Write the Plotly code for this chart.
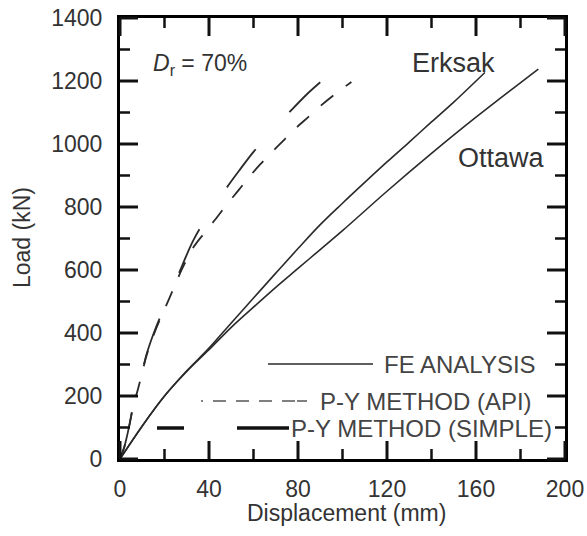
import plotly.graph_objects as go

# ---- data: pile head load vs. displacement, Dr = 70% ----
# FE analysis, Erksak sand
fe_erksak_disp = [0, 10, 20, 30, 40, 50, 60, 70, 80, 90, 100, 110, 120, 130, 140, 150, 164]
fe_erksak_load = [0, 105, 200, 280, 352, 432, 511, 590, 668, 744, 812, 878, 943, 1006, 1070, 1133, 1227]
# FE analysis, Ottawa sand
fe_ottawa_disp = [0, 10, 20, 30, 40, 50, 60, 70, 80, 90, 100, 120, 140, 160, 188]
fe_ottawa_load = [0, 105, 200, 278, 347, 418, 482, 545, 605, 665, 725, 850, 970, 1085, 1238]
# P-Y method (API)
api_disp = [0, 2, 4, 6, 8, 10, 12, 16, 20, 24, 28, 33, 38, 43, 48, 53.5, 58, 63, 68, 74, 79, 85, 90, 97, 104]
api_load = [0, 40, 100, 170, 220, 275, 330, 410, 475, 540, 605, 672, 718, 762, 808, 855, 895, 935, 972, 1015, 1050, 1088, 1120, 1160, 1197]
# P-Y method (simple)
simple_disp = [0, 2, 4, 6, 8, 10, 12, 16, 20, 24, 28, 33, 40, 47, 53.5, 60, 67.7, 76, 84, 90]
simple_load = [0, 40, 100, 170, 222, 278, 334, 415, 482, 548, 615, 695, 778, 852, 915, 975, 1037, 1100, 1158, 1196]

x_range = [0, 200]
y_range = [0, 1400]
x_major, x_minor = 40, 20
y_major, y_minor = 200, 100

FONT = "Liberation Sans, Arial, sans-serif"
INK = "#2a2a2a"
TXT = "#333"
KEY_TXT = "#444"

# plot-area geometry in pixels (used for the hand-drawn key and tick marks)
W, H = 587, 536
L, R, T, B = 120, 22, 18, 77
PW, PH = W - L - R, H - T - B


def px(x):
    return (x - L) / PW


def py(y):
    return (H - B - y) / PH


fig = go.Figure()

line_style = dict(color=INK, width=1.6)
fig.add_trace(go.Scatter(x=fe_erksak_disp, y=fe_erksak_load, mode="lines",
                         line=dict(**line_style, shape="spline"), name="FE Erksak"))
fig.add_trace(go.Scatter(x=fe_ottawa_disp, y=fe_ottawa_load, mode="lines",
                         line=dict(**line_style, shape="spline"), name="FE Ottawa"))
fig.add_trace(go.Scatter(x=api_disp, y=api_load, mode="lines",
                         line=dict(color=INK, width=1.8, dash="16px,16px", shape="spline"),
                         name="P-Y API"))
fig.add_trace(go.Scatter(x=simple_disp, y=simple_load, mode="lines",
                         line=dict(color=INK, width=1.8, dash="48px,50px", shape="spline"),
                         name="P-Y simple"))

shapes = []


# inward tick marks on all four sides of the frame (paper coordinates)
def add_ticks(axis, step, skip, length_px, width):
    rng = x_range if axis == "x" else y_range
    span = rng[1] - rng[0]
    for v in range(rng[0], rng[1] + 1, step):
        if skip and v % skip == 0:
            continue
        f = (v - rng[0]) / span
        style = dict(type="line", xref="paper", yref="paper",
                     line=dict(color="#111", width=width))
        if axis == "x":
            d = length_px / PH
            shapes.append(dict(style, x0=f, x1=f, y0=0, y1=d))
            shapes.append(dict(style, x0=f, x1=f, y0=1, y1=1 - d))
        else:
            d = length_px / PW
            shapes.append(dict(style, y0=f, y1=f, x0=0, x1=d))
            shapes.append(dict(style, y0=f, y1=f, x0=1, x1=1 - d))


add_ticks("x", x_major, None, 18, 3)
add_ticks("x", x_minor, x_major, 10, 2.5)
add_ticks("y", y_major, None, 18, 3)
add_ticks("y", y_minor, y_major, 10, 2.5)

# key: sample lines
shapes += [
    dict(type="line", xref="paper", yref="paper", x0=px(268), x1=px(373), y0=py(364), y1=py(364),
         line=dict(color=INK, width=1.5)),
    dict(type="line", xref="paper", yref="paper", x0=px(201), x1=px(308), y0=py(401), y1=py(401),
         line=dict(color="#555", width=1.3, dash="2px,10px,13px,10px,13px,10px,13px,10px,13px")),
    dict(type="line", xref="paper", yref="paper", x0=px(157), x1=px(184), y0=py(428), y1=py(428),
         line=dict(color="#111", width=3.5)),
    dict(type="line", xref="paper", yref="paper", x0=px(237), x1=px(289), y0=py(428), y1=py(428),
         line=dict(color="#111", width=3.5)),
]

annotations = [
    dict(text="FE ANALYSIS", x=px(538), y=py(364), xanchor="right", yanchor="middle"),
    dict(text="P-Y METHOD (API)", x=px(534), y=py(401), xanchor="right", yanchor="middle"),
    dict(text="P-Y METHOD (SIMPLE)", x=px(554), y=py(428), xanchor="right", yanchor="middle"),
]
for a in annotations:
    a.update(xref="paper", yref="paper", showarrow=False,
             font=dict(family=FONT, size=24, color=KEY_TXT))

annotations += [
    dict(text="Erksak", x=px(453), y=py(63), xref="paper", yref="paper", showarrow=False,
         xanchor="center", yanchor="middle", font=dict(family=FONT, size=27, color=TXT)),
    dict(text="Ottawa", x=px(501), y=py(158), xref="paper", yref="paper", showarrow=False,
         xanchor="center", yanchor="middle", font=dict(family=FONT, size=27, color=TXT)),
    dict(text="<i>D</i><sub>r</sub> = 70%", x=px(151), y=py(64), xref="paper", yref="paper",
         showarrow=False, xanchor="left", yanchor="middle",
         font=dict(family=FONT, size=23, color=TXT)),
    # axis titles
    dict(text="Displacement (mm)", x=px(346), y=py(513), xref="paper", yref="paper",
         showarrow=False, xanchor="center", yanchor="middle",
         font=dict(family=FONT, size=23, color=TXT)),
    dict(text="Load (kN)", x=px(22), y=py(238), xref="paper", yref="paper", textangle=-90,
         showarrow=False, xanchor="center", yanchor="middle",
         font=dict(family=FONT, size=23, color=TXT)),
]

# axes: frame line plus labels; transparent outside ticks only set the label offset
axis_common = dict(
    showline=True, linecolor="black", linewidth=3, mirror=True,
    ticks="outside", tickcolor="rgba(0,0,0,0)", tickwidth=1,
    showgrid=False, zeroline=False, automargin=False,
    tickmode="linear", tick0=0,
    tickfont=dict(family=FONT, size=23, color=TXT),
)

fig.update_layout(
    width=W, height=H,
    margin=dict(l=L, r=R, t=T, b=B),
    paper_bgcolor="white", plot_bgcolor="white",
    showlegend=False,
    shapes=shapes,
    annotations=annotations,
    xaxis=dict(**axis_common, range=x_range, dtick=x_major, ticklen=7),
    yaxis=dict(**axis_common, range=y_range, dtick=y_major, ticklen=10),
)

fig.write_html("out.html")
